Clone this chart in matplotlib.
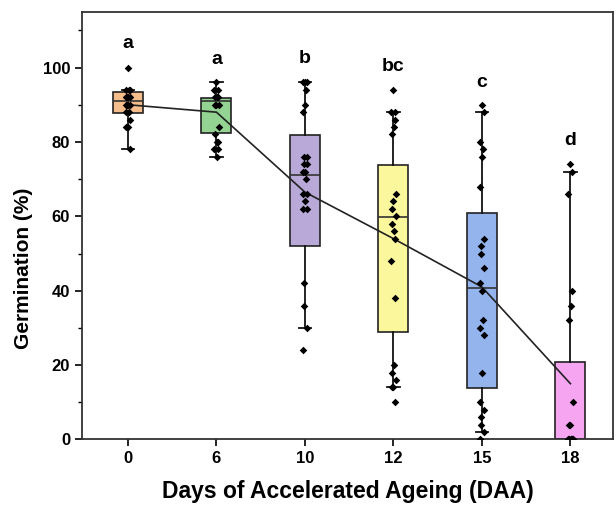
import matplotlib.pyplot as plt
import numpy as np

plt.rcParams['font.family'] = ['Liberation Sans', 'DejaVu Sans']

# Days of accelerated ageing (categories)
days = ['0', '6', '10', '12', '15', '18']
letters = ['a', 'a', 'b', 'bc', 'c', 'd']
letter_y = [106.5, 102.2, 102.4, 100.3, 96.1, 80.5]

# box statistics
q1 = [87.8, 82.3, 52.0, 28.8, 13.9, 0.0]
med = [91.0, 91.0, 71.0, 59.8, 40.8, 0.0]
q3 = [93.4, 91.9, 81.8, 73.9, 60.8, 20.9]
whislo = [78, 76, 30, 14, 2, 0]
whishi = [94, 96, 96, 88, 88, 72]
means = [90.0, 88.0, 66.5, 54.0, 41.0, 15.0]

# individual germination values
pts_0 = [100, 94, 94, 94, 92, 92, 92, 92, 90, 90, 90, 90, 88, 88, 86, 84, 84, 78]
pts_6 = [96, 94, 94, 92, 92, 92, 90, 90, 90, 84, 82, 80, 80, 78, 78, 76]
pts_10 = [96, 96, 96, 94, 90, 88, 76, 76, 74, 74, 72, 72, 70, 66, 66, 64, 62, 62, 42, 36, 30, 24]
pts_12 = [94, 88, 88, 86, 84, 82, 66, 64, 62, 60, 58, 56, 54, 48, 38, 20, 18, 16, 14, 14, 10]
pts_15 = [90, 88, 80, 78, 76, 68, 54, 52, 50, 46, 42, 40, 32, 30, 28, 18, 10, 8, 6, 4, 2, 0]
pts_18 = [74, 72, 66, 40, 36, 32, 10, 4, 4, 0, 0, 0, 0, 0, 0, 0]
points = [pts_0, pts_6, pts_10, pts_12, pts_15, pts_18]

colors = ['#f6bd8c', '#93d493', '#b8a9d8', '#fbf79c', '#94b4ee', '#f6a6f1']

fig = plt.figure(figsize=(6.16, 5.11), dpi=100)
ax = fig.add_axes([0.133, 0.140, 0.862, 0.837])

pos = np.arange(1, len(days) + 1)
stats = []
for i in range(len(days)):
    stats.append(dict(med=med[i], q1=q1[i], q3=q3[i],
                      whislo=whislo[i], whishi=whishi[i], fliers=[]))

bp = ax.bxp(stats, positions=pos, widths=0.34, patch_artist=True,
            showfliers=False, capwidths=0.14,
            boxprops=dict(edgecolor='#222222', linewidth=1.2),
            medianprops=dict(color='#333333', linewidth=1.2),
            whiskerprops=dict(color='#111111', linewidth=1.3),
            capprops=dict(color='#111111', linewidth=1.3))
for patch, c in zip(bp['boxes'], colors):
    patch.set_facecolor(c)

# scatter the raw points with a small fixed horizontal spread
for i, vals in enumerate(points):
    n = len(vals)
    offs = 0.025 * np.sin(np.arange(n) * 2.3)
    ax.scatter(pos[i] + offs, vals, s=15, marker='D', color='black', zorder=4,
               linewidths=0)

# mean line
ax.plot(pos, means, color='#222222', linewidth=1.2, zorder=3)

for i in range(len(days)):
    ax.text(pos[i], letter_y[i], letters[i], ha='center', va='center',
            fontsize=14, fontweight='bold')

ax.set_xlim(0.48, 6.48)
ax.set_ylim(0, 115)
ax.set_xticks(pos)
ax.set_xticklabels(days)
ax.set_yticks([0, 20, 40, 60, 80, 100])
ax.set_yticks([10, 30, 50, 70, 90, 110], minor=True)
ax.tick_params(axis='both', which='major', direction='out', length=5, width=1.2,
               labelsize=12)
ax.tick_params(axis='y', which='minor', direction='out', length=3, width=1.0)
for lab in ax.get_xticklabels() + ax.get_yticklabels():
    lab.set_fontweight('bold')
for sp in ax.spines.values():
    sp.set_linewidth(1.3)
    sp.set_color('#333333')

ax.set_xlabel('Days of Accelerated Ageing (DAA)', fontsize=16.5,
              fontweight='bold', labelpad=10)
ax.set_ylabel('Germination (%)', fontsize=15, fontweight='bold')
ax.yaxis.set_label_coords(-0.092, 0.40)

fig.savefig('out.png', dpi=100)
